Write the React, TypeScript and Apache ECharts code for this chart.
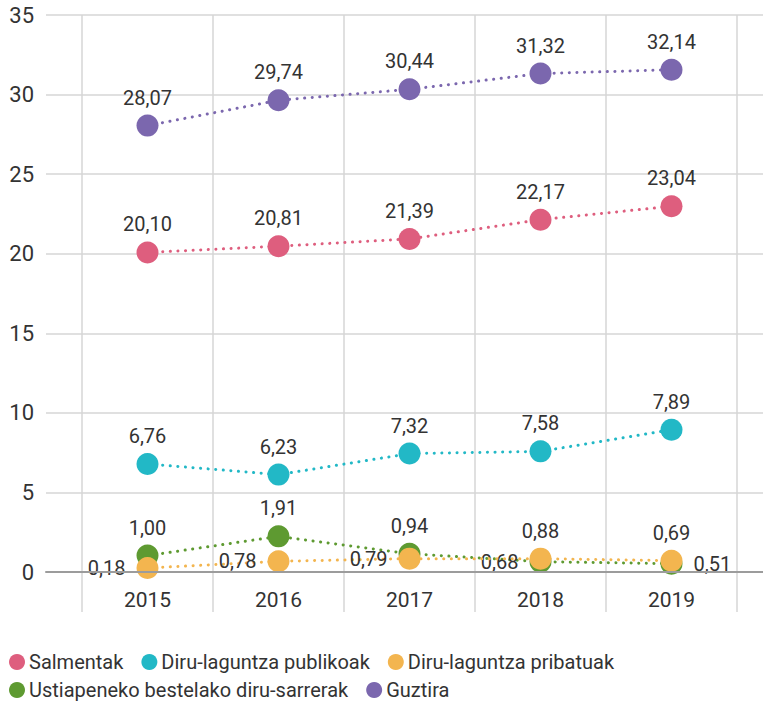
import React, { useEffect, useRef } from "react";
import * as echarts from "echarts";

const years = ["2015", "2016", "2017", "2018", "2019"];

// plotted positions (as drawn) and printed labels
const salmentak = [20.08, 20.47, 20.93, 22.14, 22.98];
const salmentakLabels = ["20,10", "20,81", "21,39", "22,17", "23,04"];

const publikoak = [6.79, 6.12, 7.44, 7.58, 8.94];
const publikoakLabels = ["6,76", "6,23", "7,32", "7,58", "7,89"];

const pribatuak = [0.25, 0.67, 0.84, 0.84, 0.71];
const pribatuakLabels = ["0,18", "0,78", "0,79", "0,88", "0,69"];
const pribatuakPos = ["left", "left", "left", "top", "top"];

const ustiapen = [1.03, 2.24, 1.15, 0.65, 0.52];
const ustiapenLabels = ["1,00", "1,91", "0,94", "0,68", "0,51"];
const ustiapenPos = ["top", "top", "top", "left", "right"];

const guztira = [28.05, 29.64, 30.33, 31.32, 31.56];
const guztiraLabels = ["28,07", "29,74", "30,44", "31,32", "32,14"];

const yTicks = { min: 0, max: 35, interval: 5 };

const NAMES = {
  s: "Salmentak",
  p: "Diru-laguntza publikoak",
  b: "Diru-laguntza pribatuak",
  u: "Ustiapeneko bestelako diru-sarrerak",
  g: "Guztira",
};
const COLORS = {
  s: "#de5e7e",
  p: "#22b8c6",
  b: "#f3b54f",
  u: "#5e9a31",
  g: "#7b67ae",
};

const FONT = "Roboto, 'Noto Sans', sans-serif";
const TEXT = "#333333";

function makeSeries(
  name: string,
  color: string,
  values: number[],
  labels: string[],
  positions?: string[],
  z = 2
) {
  return {
    type: "line",
    name,
    xAxisIndex: 1,
    yAxisIndex: 1,
    z,
    symbol: "circle",
    symbolSize: 22,
    itemStyle: { color, borderWidth: 0 },
    lineStyle: { color, type: [0.1, 7.5], width: 3, cap: "round" },
    label: {
      show: true,
      position: "top",
      distance: 7,
      color: TEXT,
      fontFamily: FONT,
      fontSize: 20,
      formatter: (p: any) => labels[p.dataIndex],
    },
    emphasis: { disabled: true },
    data: values.map((v, i) => {
      const pos = positions ? positions[i] : "top";
      return {
        value: v,
        label: { position: pos, distance: pos === "top" ? 7 : 11 },
      };
    }),
  };
}

export default function App() {
  const ref = useRef<HTMLDivElement>(null);
  useEffect(() => {
    if (!ref.current) return;
    const chart = echarts.init(ref.current, null, { renderer: "svg" });
    const top = 15;
    const bottom = 703 - 572;
    const legendText = {
      color: TEXT,
      fontFamily: FONT,
      fontSize: 20,
      padding: [0, 0, 0, -1],
    };
    chart.setOption({
      animation: false,
      backgroundColor: "#ffffff",
      grid: [
        { left: 46, right: 0, top, bottom },
        { left: 82, right: 26, top, bottom },
      ],
      xAxis: [
        {
          gridIndex: 0,
          type: "value",
          min: 0,
          max: 1,
          axisLine: { show: true, lineStyle: { color: "#9c9c9c", width: 2 } },
          axisTick: { show: false },
          axisLabel: { show: false },
          splitLine: { show: false },
          z: 5,
        },
        {
          gridIndex: 1,
          type: "category",
          data: years,
          boundaryGap: true,
          axisLine: { show: false },
          axisTick: {
            show: true,
            length: 40,
            lineStyle: { color: "#d6d6d6", width: 1.5 },
          },
          axisLabel: {
            color: TEXT,
            fontFamily: FONT,
            fontSize: 21,
            margin: 17,
          },
          splitLine: { show: true, lineStyle: { color: "#d6d6d6", width: 1.5 } },
        },
      ],
      yAxis: [
        {
          gridIndex: 0,
          type: "value",
          min: yTicks.min,
          max: yTicks.max,
          interval: yTicks.interval,
          axisLine: { show: false },
          axisTick: { show: false },
          axisLabel: {
            color: TEXT,
            fontFamily: FONT,
            fontSize: 22,
            margin: 12,
          },
          splitLine: { show: true, lineStyle: { color: "#d6d6d6", width: 1.5 } },
        },
        {
          gridIndex: 1,
          type: "value",
          min: yTicks.min,
          max: yTicks.max,
          interval: yTicks.interval,
          show: false,
        },
      ],
      legend: [
        {
          left: 4,
          top: 647,
          icon: "circle",
          itemWidth: 16,
          itemHeight: 16,
          itemGap: 18,
          textStyle: legendText,
          data: [NAMES.s, NAMES.p, NAMES.b],
        },
        {
          left: 4,
          top: 675,
          icon: "circle",
          itemWidth: 16,
          itemHeight: 16,
          itemGap: 18,
          textStyle: legendText,
          data: [NAMES.u, NAMES.g],
        },
      ],
      series: [
        makeSeries(NAMES.s, COLORS.s, salmentak, salmentakLabels),
        makeSeries(NAMES.p, COLORS.p, publikoak, publikoakLabels),
        makeSeries(NAMES.u, COLORS.u, ustiapen, ustiapenLabels, ustiapenPos, 2),
        makeSeries(NAMES.b, COLORS.b, pribatuak, pribatuakLabels, pribatuakPos, 3),
        makeSeries(NAMES.g, COLORS.g, guztira, guztiraLabels),
      ],
    });
    return () => chart.dispose();
  }, []);
  return (
    <div
      ref={ref}
      style={{ width: 763, height: 703, position: "absolute", left: 0, top: 0 }}
    />
  );
}
